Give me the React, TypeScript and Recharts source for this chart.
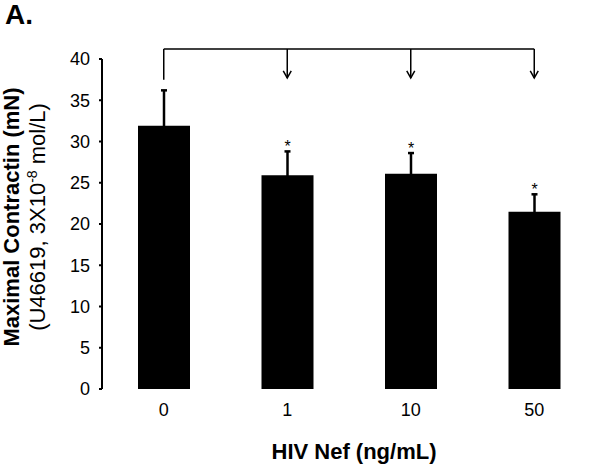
import { BarChart, Bar, XAxis, YAxis, ErrorBar, LabelList, ReferenceLine, Label } from "recharts";

const categories = ["0", "1", "10", "50"];
const means = [31.9, 25.9, 26.1, 21.5];
const sems = [4.3, 2.9, 2.5, 2.1];
const stars = ["", "*", "*", "*"];
const yTicks = [0, 5, 10, 15, 20, 25, 30, 35, 40];
const boundaryTicks = [0, 1, 2, 3, 4];
// comparison bracket: from control to each dose
const bracketY = 41.2;
const dropY = 37.5;
const arrowTipY = 37.7;
const bracketFrom = "0";
const arrowTargets = ["1", "10", "50"];

const data = categories.map((c, i) => ({ dose: c, mean: means[i], sem: sems[i], star: stars[i] }));

const FONT = "'Liberation Sans', Arial, sans-serif";

function Arrow(p: any) {
  const { x1, y1, x2, y2 } = p;
  const top = Math.min(y1, y2);
  const tip = Math.max(y1, y2);
  return (
    <g stroke="#000" strokeWidth={1.5} fill="none">
      <line x1={x1} y1={top} x2={x2} y2={tip} />
      <path d={`M${x2 - 4},${tip - 7} L${x2},${tip} L${x2 + 4},${tip - 7}`} />
    </g>
  );
}

function Star(p: any) {
  const { x, y, width, height, value, index } = p;
  if (!value) return null;
  const perUnit = height / means[index];
  const errTop = y - sems[index] * perUnit;
  return (
    <text x={x + width / 2} y={errTop + 1} textAnchor="middle" fontSize={16} fontFamily={FONT} fill="#000">
      {value}
    </text>
  );
}

function YTitle(p: any) {
  const vb = p.viewBox;
  const cy = vb.y + vb.height / 2 - 7;
  return (
    <g fontFamily={FONT} fill="#000">
      <text x={19} y={cy} transform={`rotate(-90, 19, ${cy})`} textAnchor="middle" fontSize={22} fontWeight="bold">
        Maximal Contractin (mN)
      </text>
      <text x={45} y={cy} transform={`rotate(-90, 45, ${cy})`} textAnchor="middle" fontSize={22}>
        (U46619, 3X10
        <tspan fontSize={14} dy={-8}>-8</tspan>
        <tspan dy={8}> mol/L)</tspan>
      </text>
    </g>
  );
}

function XTitle(p: any) {
  const vb = p.viewBox;
  return (
    <text x={vb.x + vb.width / 2 + 5} y={vb.y + 70} textAnchor="middle" fontSize={22} fontWeight="bold" fontFamily={FONT} fill="#000">
      HIV Nef (ng/mL)
    </text>
  );
}

export default function App() {
  return (
    <div style={{ position: "absolute", left: 0, top: 0, width: 600, height: 466, background: "#fff" }}>
      <div style={{ position: "absolute", left: 5, top: 1, fontFamily: FONT, fontWeight: "bold", fontSize: 28, lineHeight: "28px" }}>
        A.
      </div>
      <BarChart width={600} height={466} data={data} margin={{ top: 59, right: 4, left: 0, bottom: 0 }}>
        <XAxis
          xAxisId="grid"
          type="number"
          domain={[0, 4]}
          ticks={boundaryTicks}
          tick={false}
          height={0}
          tickSize={5}
          axisLine={{ stroke: "#000", strokeWidth: 2 }}
          tickLine={{ stroke: "#000", strokeWidth: 2 }}
        />
        <XAxis
          xAxisId="cat"
          dataKey="dose"
          height={77}
          axisLine={false}
          tickLine={false}
          tickSize={5}
          tickMargin={9}
          tick={{ fill: "#000", fontSize: 18, fontFamily: FONT }}
        >
          <Label content={XTitle} />
        </XAxis>
        <YAxis
          width={102}
          domain={[0, 40]}
          ticks={yTicks}
          allowDataOverflow
          tickSize={3}
          tickMargin={9}
          axisLine={{ stroke: "#000", strokeWidth: 2 }}
          tickLine={{ stroke: "#000", strokeWidth: 2 }}
          tick={{ fill: "#000", fontSize: 18, fontFamily: FONT }}
        >
          <Label content={YTitle} />
        </YAxis>
        <Bar xAxisId="cat" dataKey="mean" fill="#000" barSize={52} isAnimationActive={false}>
          <ErrorBar dataKey="sem" direction="y" width={3} stroke="#000" strokeWidth={2.5} />
          <LabelList dataKey="star" content={Star} />
        </Bar>
        <ReferenceLine
          xAxisId="cat"
          ifOverflow="visible"
          segment={[{ x: bracketFrom, y: bracketY }, { x: arrowTargets[arrowTargets.length - 1], y: bracketY }]}
          stroke="#000"
          strokeWidth={1.5}
        />
        <ReferenceLine
          xAxisId="cat"
          ifOverflow="visible"
          segment={[{ x: bracketFrom, y: bracketY }, { x: bracketFrom, y: dropY }]}
          stroke="#000"
          strokeWidth={1.5}
        />
        {arrowTargets.map((t) => (
          <ReferenceLine
            key={t}
            xAxisId="cat"
            ifOverflow="visible"
            segment={[{ x: t, y: bracketY }, { x: t, y: arrowTipY }]}
            shape={Arrow}
          />
        ))}
      </BarChart>
    </div>
  );
}
